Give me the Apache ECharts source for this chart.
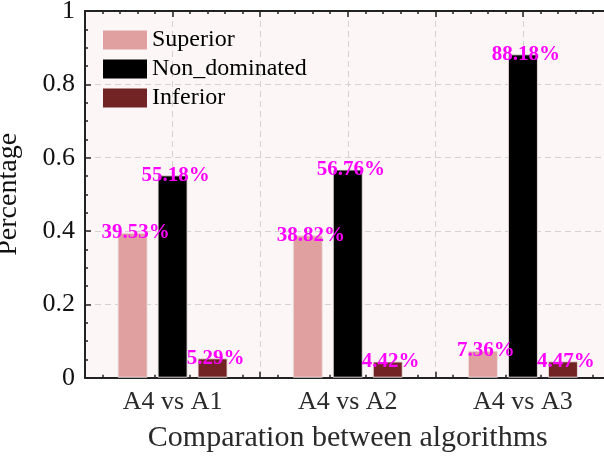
<!DOCTYPE html>
<html>
<head>
<meta charset="utf-8">
<script src="https://cdn.jsdelivr.net/npm/echarts@6/dist/echarts.min.js"></script>
<style>html,body{margin:0;padding:0;background:#fff;}#c{width:604px;height:457px;}</style>
</head>
<body>
<div id="c"></div>
<script>
const categories = ['A4 vs A1', 'A4 vs A2', 'A4 vs A3'];
const superior = [0.3953, 0.3882, 0.0736];
const nonDominated = [0.5518, 0.5676, 0.8818];
const inferior = [0.0529, 0.0442, 0.0447];
const seriesNames = ['Superior', 'Non_dominated', 'Inferior'];
const colors = ['#E0A09F', '#000000', '#722425'];

const FONT = 'Liberation Serif';
const chart = echarts.init(document.getElementById('c'), null, {renderer: 'canvas'});

function mkSeries(name, data, color) {
  return {
    name: name, type: 'bar', data: data, xAxisIndex: 0, yAxisIndex: 0,
    barWidth: 30, barGap: '33.3%',
    itemStyle: {color: color, borderColor: 'rgba(235,225,225,0.9)', borderWidth: 1},
    label: {
      show: true, position: ['50%', 0], align: 'center', verticalAlign: 'middle', offset: [3, 0],
      formatter: p => (p.value * 100).toFixed(2) + '%',
      color: '#FF00FF', fontFamily: FONT, fontWeight: 'bold', fontSize: 21
    }
  };
}

const tickStyle = {show: true, inside: true, length: 6, lineStyle: {color: '#222', width: 1.5}};
const minorStyle = {show: true, splitNumber: 5, length: 3, lineStyle: {color: '#222', width: 1.5}};
const lineStyle = {show: true, lineStyle: {color: '#222', width: 2}};

chart.setOption({
  animation: false,
  textStyle: {fontFamily: FONT},
  grid: {left: 85, top: 11, right: -6.5, bottom: 79.3, show: true, backgroundColor: '#FCF6F6', borderWidth: 0,
         containLabel: false, outerBoundsMode: 'none'},
  legend: {
    left: 103, top: 28, orient: 'vertical', itemWidth: 44, itemHeight: 19, itemGap: 5, padding: 0,
    icon: 'rect',
    data: seriesNames,
    textStyle: {fontFamily: FONT, fontSize: 24, color: '#000'},
    itemStyle: {borderWidth: 0}
  },
  xAxis: [
    {
      type: 'category', data: categories, position: 'bottom',
      axisLine: {show: false}, axisTick: {show: false},
      axisLabel: {fontFamily: FONT, fontSize: 26, color: '#2a2a2a', margin: 11},
      name: 'Comparation between algorithms', nameLocation: 'middle', nameGap: 45,
      nameTextStyle: {fontFamily: FONT, fontSize: 30, color: '#2a2a2a'}
    },
    {
      type: 'value', min: 0, max: 6, interval: 1, position: 'bottom',
      axisLine: lineStyle, axisTick: tickStyle, minorTick: minorStyle,
      axisLabel: {show: false},
      splitLine: {show: true, lineStyle: {color: '#D9D0D0', type: [6, 4], width: 1}}
    },
    {
      type: 'value', min: 0, max: 6, interval: 1, position: 'top',
      axisLine: lineStyle, axisTick: tickStyle, minorTick: minorStyle,
      axisLabel: {show: false}, splitLine: {show: false}
    }
  ],
  yAxis: {
    type: 'value', min: 0, max: 1, interval: 0.2,
    axisLine: lineStyle, axisTick: tickStyle,
    minorTick: {show: true, splitNumber: 4, length: 3, lineStyle: {color: '#222', width: 1.5}},
    axisLabel: {fontFamily: FONT, fontSize: 26, color: '#111', margin: 10},
    splitLine: {show: true, lineStyle: {color: '#D9D0D0', type: [6, 4], width: 1}},
    name: 'Percentage', nameLocation: 'middle', nameGap: 62,
    nameTextStyle: {fontFamily: FONT, fontSize: 28, color: '#111'}
  },
  series: [
    mkSeries(seriesNames[0], superior, colors[0]),
    mkSeries(seriesNames[1], nonDominated, colors[1]),
    mkSeries(seriesNames[2], inferior, colors[2])
  ]
});
</script>
</body>
</html>
